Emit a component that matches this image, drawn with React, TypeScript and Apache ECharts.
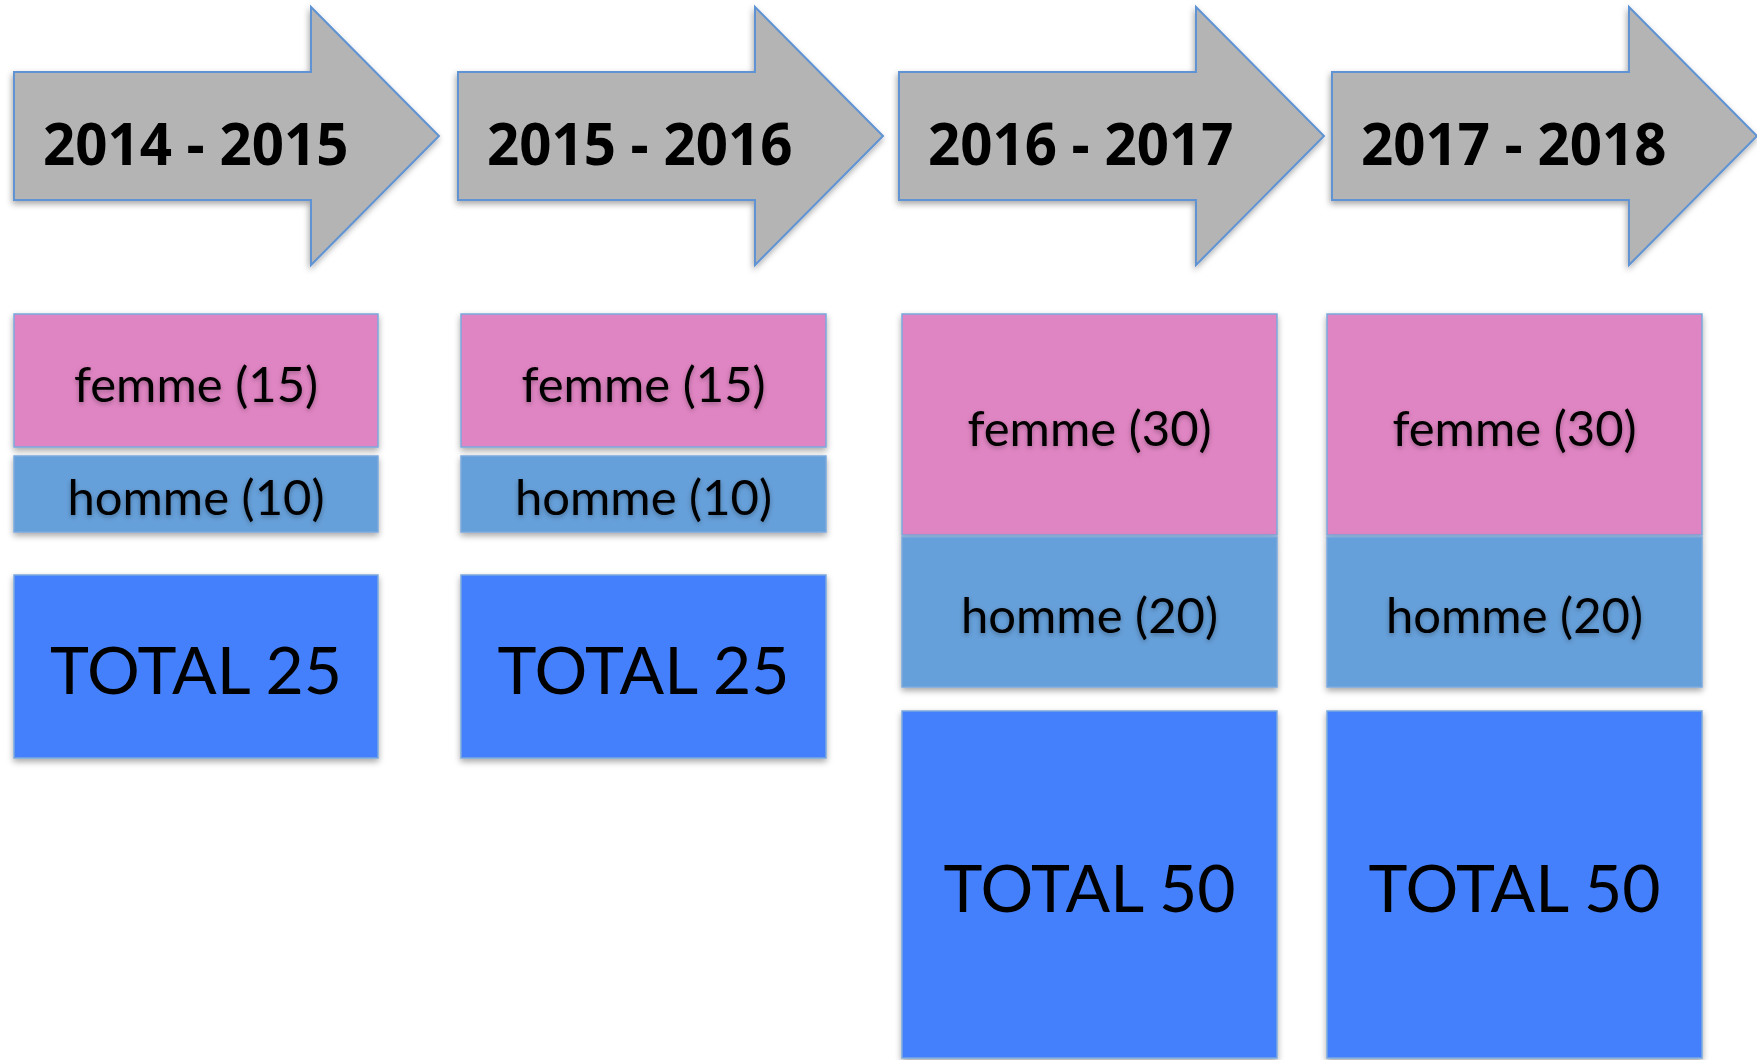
import React, { useEffect, useRef } from "react";
import * as echarts from "echarts";

// ---- data ----
const periods = ["2014 - 2015", "2015 - 2016", "2016 - 2017", "2017 - 2018"];
const femmes = [15, 15, 30, 30];
const hommes = [10, 10, 20, 20];
const totals = [25, 25, 50, 50];

// ---- layout (pixels) ----
const W = 1757;
const H = 1060;
const arrowLeft = [14, 458, 899, 1332];
const boxLeft = [14, 461, 902, 1327];
const boxWidth = [364, 365, 375, 375];
// [femmeTop, femmeBottom, hommeTop, hommeBottom, totalTop, totalBottom]
const rowsSmall = [314, 447, 456, 532, 575, 758];
const rowsLarge = [314, 535, 537, 687, 711, 1058];

const PINK = "#e085c3";
const HOMME = "#66a0da";
const TOTAL = "#4580fc";
const ARROW_FILL = "#b4b4b4";
const ARROW_STROKE = "#5f93d3";
const BOX_STROKE = "#7ba8dd";

function buildGraphics() {
  const els: any[] = [];
  periods.forEach((p, i) => {
    const L = arrowLeft[i];
    els.push({
      type: "polygon",
      shape: {
        points: [
          [L, 72],
          [L + 297, 72],
          [L + 297, 7],
          [L + 425, 136],
          [L + 297, 265],
          [L + 297, 200],
          [L, 200],
        ],
      },
      style: {
        fill: ARROW_FILL,
        stroke: ARROW_STROKE,
        lineWidth: 2,
        shadowBlur: 6,
        shadowOffsetX: -1,
        shadowOffsetY: 3,
        shadowColor: "rgba(0,0,0,0.35)",
      },
    });
    els.push({
      type: "text",
      x: L + 29,
      y: 142,
      scaleX: 0.94,
      style: {
        text: p,
        fontFamily: "Open Sans",
        fontWeight: "bold",
        fontSize: 60,
        fill: "#000",
        align: "left",
        verticalAlign: "middle",
        textAlign: "left",
        textVerticalAlign: "middle",
      },
    });

    const rows = femmes[i] > 20 ? rowsLarge : rowsSmall;
    const bx = boxLeft[i];
    const bw = boxWidth[i];
    const boxes = [
      { top: rows[0], bot: rows[1], fill: PINK, label: `femme (${femmes[i]})`, size: 49, shadowText: true },
      { top: rows[2], bot: rows[3], fill: HOMME, label: `homme (${hommes[i]})`, size: 49, shadowText: true },
      { top: rows[4], bot: rows[5], fill: TOTAL, label: `TOTAL ${totals[i]}`, size: 66, shadowText: false },
    ];
    boxes.forEach((b) => {
      els.push({
        type: "rect",
        shape: { x: bx, y: b.top, width: bw, height: b.bot - b.top },
        style: {
          fill: b.fill,
          stroke: BOX_STROKE,
          lineWidth: 1.5,
          shadowBlur: 6,
          shadowOffsetY: 3,
          shadowColor: "rgba(0,0,0,0.35)",
        },
      });
      const ts: any = {
        text: b.label,
        fontFamily: "Lato",
        fontSize: b.size,
        fill: "#000",
        align: "center",
        verticalAlign: "middle",
        textAlign: "center",
        textVerticalAlign: "middle",
      };
      if (b.shadowText) {
        ts.textShadowBlur = 5;
        ts.textShadowColor = "rgba(0,0,0,0.3)";
        ts.textShadowOffsetY = 2;
      }
      els.push({
        type: "text",
        x: bx + bw / 2,
        y: (b.top + b.bot) / 2 + 2,
        style: ts,
      });
    });
  });
  return els;
}

export default function App() {
  const ref = useRef<HTMLDivElement>(null);
  useEffect(() => {
    if (!ref.current) return;
    const chart = echarts.init(ref.current, null, { renderer: "svg" });
    chart.setOption({
      animation: false,
      backgroundColor: "#ffffff",
      graphic: { elements: buildGraphics() },
    });
    return () => chart.dispose();
  }, []);
  return (
    <div
      ref={ref}
      style={{ position: "absolute", left: 0, top: 0, width: W, height: H }}
    />
  );
}
